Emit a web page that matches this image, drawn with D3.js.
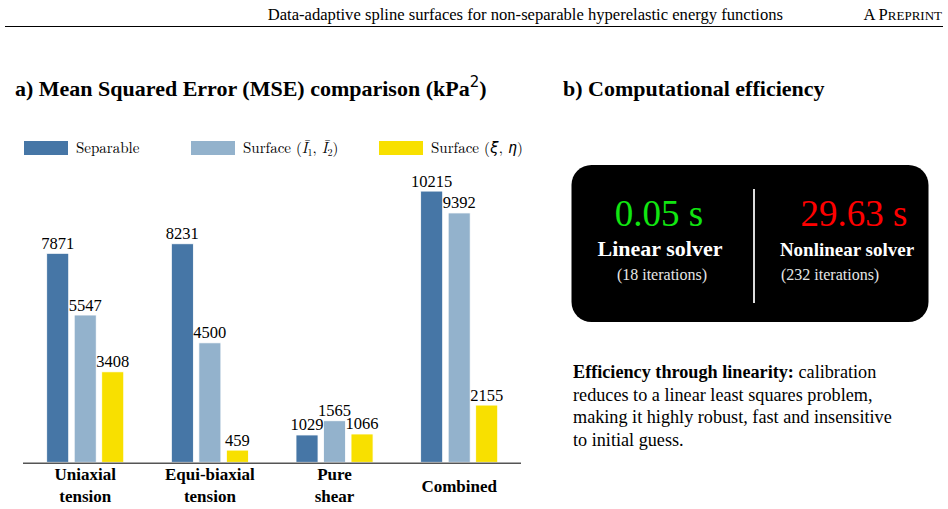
<!DOCTYPE html>
<meta charset="utf-8">
<style>
body { margin: 0; background: #fff; }
</style>
<svg width="948" height="509"></svg>
<script src="https://d3js.org/d3.v7.min.js"></script>
<script>

// data
var categories = [["Uniaxial", "tension"], ["Equi-biaxial", "tension"], ["Pure", "shear"], ["Combined"]];
var seriesNames = ["Separable", "Surface I", "Surface xi"];
var separable = [7871, 8231, 1029, 10215];
var surfaceI = [5547, 4500, 1565, 9392];
var surfaceXi = [3408, 459, 1066, 2155];
var colors = ["#4676a6", "#93b2cc", "#f8e000"];
var solverTimes = ["0.05 s", "29.63 s"];
var solverNames = ["Linear solver", "Nonlinear solver"];
var solverIters = ["(18 iterations)", "(232 iterations)"];

var serif = "'Liberation Serif', monospace";
var cm = "'Latin Modern Roman', monospace";

var svg = d3.select("svg");

// header
svg.append("text").attr("x", 783).attr("y", 19.5).attr("text-anchor", "end")
    .style("font-family", serif)
    .attr("font-size", 16.6).text("Data-adaptive spline surfaces for non-separable hyperelastic energy functions");
var pp = svg.append("text").attr("x", 942).attr("y", 19.5).attr("text-anchor", "end")
    .style("font-family", serif).attr("font-size", 16.6);
pp.append("tspan").text("A P");
pp.append("tspan").attr("font-size", 13).text("REPRINT");
svg.append("line").attr("x1", 5).attr("x2", 943).attr("y1", 26.5).attr("y2", 26.5)
    .attr("stroke", "#000").attr("stroke-width", 1);

// panel a title
var ta = svg.append("text").attr("x", 15).attr("y", 96).attr("font-size", 22).attr("font-weight", "bold")
    .style("font-family", serif);
ta.append("tspan").text("a) Mean Squared Error (MSE) comparison (kPa");
ta.append("tspan").attr("font-size", 15).attr("font-weight", "normal").style("font-family", "'DejaVu Sans', sans-serif")
    .attr("dy", -9).text("2");
ta.append("tspan").attr("dy", 9).text(")");

// legend
var legX = [24, 191, 379];
var leg = svg.append("g").selectAll("g").data(seriesNames).enter().append("g")
    .attr("transform", function(d, i) { return "translate(" + legX[i] + ",141)"; });
leg.append("rect").attr("width", 44).attr("height", 14).attr("fill", function(d, i) { return colors[i]; });
leg.each(function(d, i) {
  var t = d3.select(this).append("text").attr("x", 52).attr("y", 11.5).attr("font-size", 15)
      .style("font-family", cm);
  if (i === 0) { t.text("Separable"); return; }
  t.append("tspan").text("Surface (");
  if (i === 1) {
    t.append("tspan").attr("font-style", "italic").text("I\u0304");
    t.append("tspan").attr("font-size", 10).attr("dy", 3).text("1");
    t.append("tspan").attr("dy", -3).text(", ");
    t.append("tspan").attr("font-style", "italic").text("I\u0304");
    t.append("tspan").attr("font-size", 10).attr("dy", 3).text("2");
    t.append("tspan").attr("dy", -3).text(")");
  } else {
    t.append("tspan").attr("font-style", "italic").text("\u03be");
    t.append("tspan").text(", ");
    t.append("tspan").attr("font-style", "italic").text("\u03b7");
    t.append("tspan").text(")");
  }
});

// scales
var x0 = d3.scaleBand().domain(d3.range(categories.length)).range([46.7, 497.7]).paddingInner(0.382).paddingOuter(0);
var x1 = d3.scaleBand().domain(d3.range(3)).range([0, x0.bandwidth()]).paddingInner(0.2).paddingOuter(0);
var y = d3.scaleLinear().domain([0, 11000]).range([462.3, 462.3 - 0.02655 * 11000]);

var rows = categories.map(function(c, i) { return [separable[i], surfaceI[i], surfaceXi[i]]; });

var groups = svg.append("g").selectAll("g").data(rows).enter().append("g")
    .attr("transform", function(d, i) { return "translate(" + x0(i) + ",0)"; });

groups.selectAll("rect").data(function(d) { return d; }).enter().append("rect")
    .attr("x", function(d, j) { return x1(j); })
    .attr("y", function(d) { return y(d); })
    .attr("width", x1.bandwidth())
    .attr("height", function(d) { return y(0) - y(d); })
    .attr("fill", function(d, j) { return colors[j]; })
    .attr("stroke", "#fff").attr("stroke-width", 0.8);

groups.selectAll("text.val").data(function(d) { return d; }).enter().append("text")
    .attr("class", "val")
    .attr("x", function(d, j) { return x1(j) + x1.bandwidth() / 2; })
    .attr("y", function(d) { return y(d) - 4.5; })
    .attr("text-anchor", "middle").attr("font-size", 16.5)
    .style("font-family", serif)
    .text(function(d) { return d; });

// axis line
svg.append("line").attr("x1", 23).attr("x2", 521).attr("y1", 463.3).attr("y2", 463.3)
    .attr("stroke", "#555").attr("stroke-width", 1.5);

// category labels
var cl = svg.append("g").selectAll("text").data(categories).enter().append("text")
    .attr("text-anchor", "middle").attr("font-size", 17).attr("font-weight", "bold")
    .style("font-family", serif)
    .attr("x", function(d, i) { return x0(i) + x0.bandwidth() / 2; })
    .attr("y", function(d) { return d.length > 1 ? 479.5 : 491.5; });
cl.each(function(d) {
  var t = d3.select(this);
  d.forEach(function(s, k) {
    t.append("tspan").attr("x", t.attr("x")).attr("dy", k === 0 ? 0 : 22).text(s);
  });
});

// panel b
svg.append("text").attr("x", 563).attr("y", 96).attr("font-size", 22).attr("font-weight", "bold")
    .style("font-family", serif)
    .text("b) Computational efficiency");

svg.append("rect").attr("x", 571.5).attr("y", 165).attr("width", 357).attr("height", 157)
    .attr("rx", 20).attr("fill", "#000");
svg.append("line").attr("x1", 754).attr("x2", 754).attr("y1", 189).attr("y2", 303)
    .attr("stroke", "#ddd").attr("stroke-width", 2);

var timeX = [659, 854], nameX = [660, 847], nameSize = [22, 19];
svg.selectAll("text.time").data(solverTimes).enter().append("text")
    .attr("x", function(d, i) { return timeX[i]; }).attr("y", 226)
    .attr("text-anchor", "middle").attr("font-size", 37)
    .style("font-family", serif)
    .attr("fill", function(d, i) { return i === 0 ? "#11e611" : "#ff0000"; })
    .text(function(d) { return d; });
svg.selectAll("text.sname").data(solverNames).enter().append("text")
    .attr("x", function(d, i) { return nameX[i]; }).attr("y", 256)
    .attr("text-anchor", "middle").attr("font-size", function(d, i) { return nameSize[i]; })
    .attr("font-weight", "bold").attr("fill", "#fff")
    .style("font-family", serif)
    .text(function(d) { return d; });
svg.selectAll("text.iter").data(solverIters).enter().append("text")
    .attr("x", function(d, i) { return i === 0 ? 662 : 781; }).attr("y", 279.5)
    .attr("text-anchor", function(d, i) { return i === 0 ? "middle" : "start"; })
    .attr("font-size", 16).attr("fill", "#e6e6e6")
    .style("font-family", serif)
    .text(function(d) { return d; });

// note
var note = svg.append("text").attr("font-size", 18.2).style("font-family", serif);
var l1 = note.append("tspan").attr("x", 573).attr("y", 378);
l1.append("tspan").attr("font-weight", "bold").text("Efficiency through linearity:");
l1.append("tspan").text(" calibration");
["reduces to a linear least squares problem,",
 "making it highly robust, fast and insensitive",
 "to initial guess."].forEach(function(s, k) {
  note.append("tspan").attr("x", 573).attr("y", 378 + 22.5 * (k + 1)).text(s);
});

</script>
